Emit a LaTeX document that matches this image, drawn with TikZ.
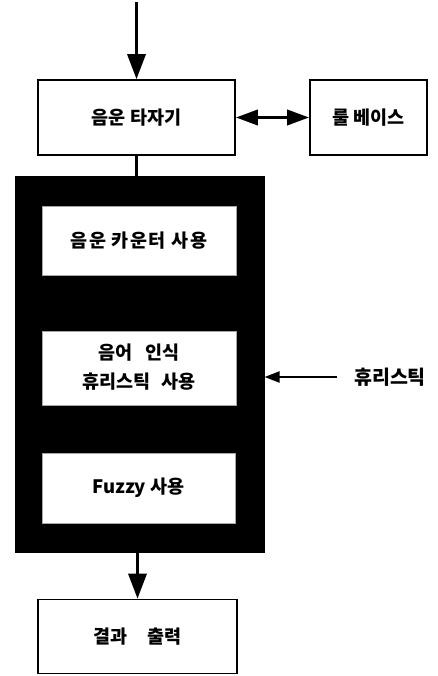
\documentclass[tikz,border=0pt]{standalone}
\usepackage{fontspec}
\setmainfont{Noto Sans CJK KR}
\usetikzlibrary{arrows.meta}
\begin{document}
\begin{tikzpicture}[x=1pt,y=-1pt,
  box/.style={draw=black,line width=1.6pt,fill=white,inner sep=0pt,font=\fontsize{18.5}{22}\selectfont\bfseries},
  inbox/.style={draw=black!35,line width=0.4pt,fill=white,inner sep=0pt,align=center,font=\fontsize{18.5}{29}\selectfont\bfseries},
  bigarrow/.style={line width=3.2pt,-{Triangle[width=18pt,length=25pt]}},
  dblarrow/.style={line width=3.6pt,{Triangle[width=15pt,length=22pt]}-{Triangle[width=15pt,length=22pt]}},
  thinarrow/.style={line width=2pt,-{Triangle[width=11pt,length=15pt]}}
]
\useasboundingbox (0,0) rectangle (437,676);
\node[box,minimum width=197pt,minimum height=75pt] (b1) at (136.5,117.5) {음운 타자기};
\node[box,minimum width=117pt,minimum height=75pt] (rb) at (368.5,117.5) {룰 베이스};
\node[draw=black,fill=black,line width=1pt,minimum width=249pt,minimum height=375pt,inner sep=0pt] (blk) at (139.5,364.5) {};
\node[inbox,minimum width=194pt,minimum height=69pt] (i1) at (139,240.5) {\addfontfeature{LetterSpace=8}음운 카운터 사용};
\node[inbox,minimum width=194pt,minimum height=74pt] (i2) at (139,368) {\raisebox{6pt}{\begin{tabular}{@{}c@{}}음어\hspace{8pt} 인식\\휴리스틱\hspace{6pt} 사용\end{tabular}}};
\node[inbox,minimum width=193pt,minimum height=70pt] (i3) at (138.5,488) {Fuzzy 사용};
\node[box,minimum width=199pt,minimum height=74pt] (out) at (137.5,636.5) {결과\hspace{20pt}출력};
\node[font=\fontsize{19.5}{22}\selectfont\bfseries,inner sep=0pt] (heu) at (390,377) {휴리스틱};
\coordinate (top) at (136.5,2);
\coordinate (hs) at (337,377);
\draw[bigarrow] (top) -- (b1.north);
\draw[dblarrow] (b1.east) -- (rb.west);
\draw[line width=3.2pt] (b1.south) -- (b1.south |- blk.north);
\draw[bigarrow] (blk.south -| out.north) -- (out.north);
\draw[thinarrow] (hs) -- (blk.east |- hs);
\end{tikzpicture}
\end{document}
